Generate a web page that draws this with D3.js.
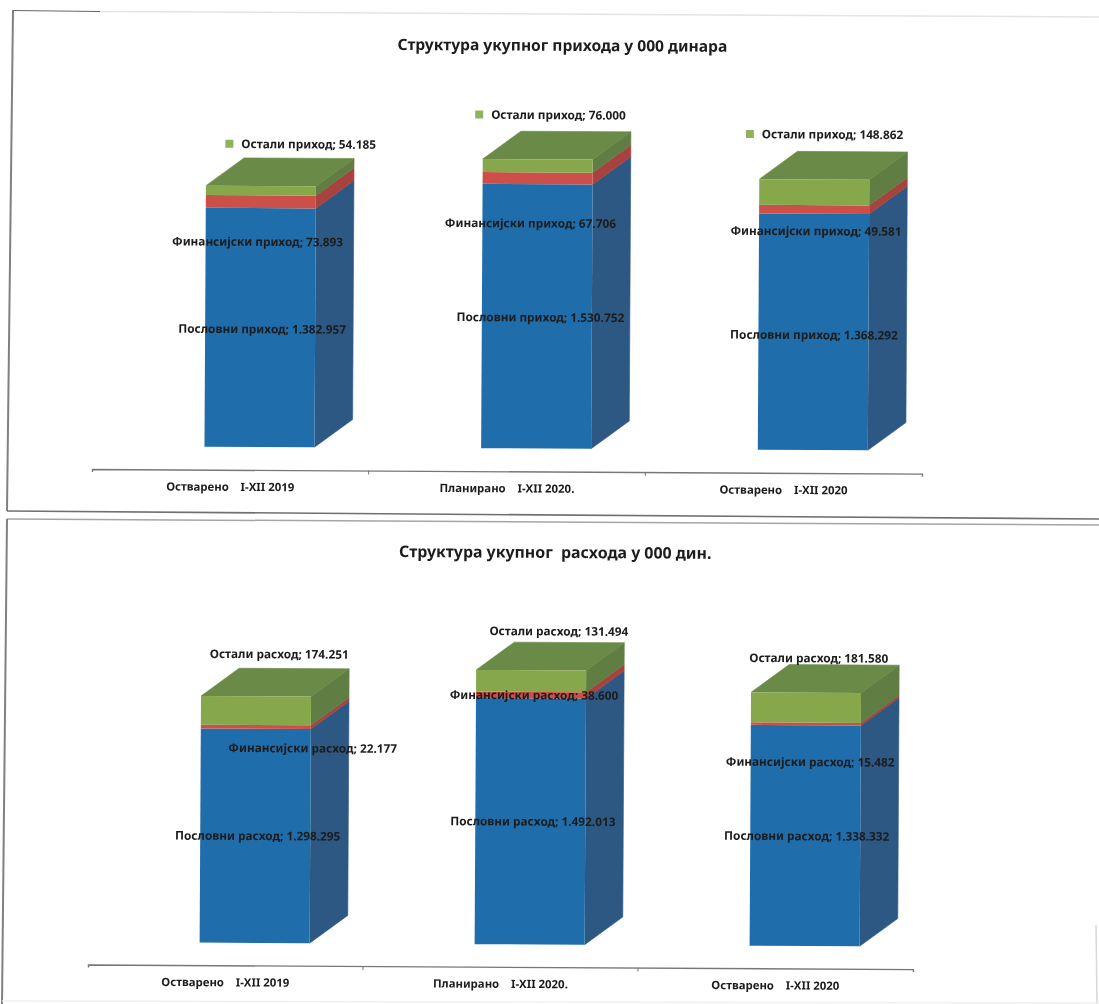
<!DOCTYPE html>
<html>
<head>
<meta charset="utf-8">
<script src="https://cdn.jsdelivr.net/npm/d3@7"></script>
<style>
html, body { margin: 0; padding: 0; background: #fff; }
svg { display: block; filter: blur(0.5px); }
text { font-family: "Noto Sans", sans-serif; font-weight: 700; fill: #1c1c1c; white-space: pre; }
</style>
</head>
<body>
<div id="chart"></div>
<script>
// categories
var incomeCats = ["Остварено    I-XII 2019", "Планирано    I-XII 2020.", "Остварено    I-XII 2020"];
var expenseCats = ["Остварено    I-XII 2019", "Планирано    I-XII 2020.", "Остварено    I-XII 2020"];

// series, 000 din
var incomeNames = ["Пословни приход", "Финансијски приход", "Остали приход"];
var incomeOperating = [1382957, 1530752, 1368292];
var incomeFinancial = [73893, 67706, 49581];
var incomeOther = [54185, 76000, 148862];

var expenseNames = ["Пословни расход", "Финансијски расход", "Остали расход"];
var expenseOperating = [1298295, 1492013, 1338332];
var expenseFinancial = [22177, 38600, 15482];
var expenseOther = [174251, 131494, 181580];

var incomeTitle = "Структура укупног прихода у 000 динара";
var expenseTitle = "Структура укупног  расхода у 000 дин.";

var width = 1099, height = 1004;
var depth = {x: 38, y: -28};
var barW = 110;
var barShift = 29; // 3d floor pushes the bars right of the band centre
var tilt = 0.32;   // the page was scanned slightly crooked

var colors = [
	{front: "#1f6dab", side: "#2d5884", top: "#2d5884"},
	{front: "#cc4f49", side: "#a8423f", top: "#a8423f"},
	{front: "#86a84a", side: "#607e44", top: "#6a8a47"}
];

var fmt = d3.formatLocale({decimal: ",", thousands: ".", grouping: [3], currency: ["", ""]}).format(",d");

var svg = d3.select("#chart").append("svg")
	.attr("width", width)
	.attr("height", height);

// scanned page frames
var frames = [
	{p: [[13, 10], [7, 511]], c: "#808080", w: 2},
	{p: [[13, 10.5], [100, 11.5]], c: "#666", w: 1.2},
	{p: [[100, 11.5], [1099, 17]], c: "#e4e4e4", w: 1.5},
	{p: [[7, 511], [1099, 519]], c: "#707070", w: 1.6},
	{p: [[7, 519], [1099, 525]], c: "#a5a5a5", w: 1.5},
	{p: [[7, 519], [2, 1004]], c: "#808080", w: 2},
	{p: [[1096, 925], [1097, 1004]], c: "#d8d8d8", w: 1.5},
	{p: [[2, 1001], [1099, 1003]], c: "#f0f0f0", w: 1.5}
];
var line = d3.line();
svg.selectAll(".frame").data(frames).enter().append("path")
	.attr("class", "frame")
	.attr("d", function(d){ return line(d.p); })
	.attr("fill", "none")
	.attr("stroke", function(d){ return d.c; })
	.attr("stroke-width", function(d){ return d.w; });

function drawChart(cfg){
	var g = svg.append("g")
		.attr("transform", "rotate(" + tilt + "," + cfg.left + "," + cfg.axisY + ")");

	var x = d3.scaleBand().domain(d3.range(cfg.cats.length)).range([cfg.left, cfg.right]);
	var y = d3.scaleLinear().domain([0, 1000000]).range([cfg.base, cfg.base - cfg.perMillion]);

	var rows = cfg.cats.map(function(c, i){
		return {a: cfg.series[0][i], b: cfg.series[1][i], c: cfg.series[2][i]};
	});
	var stacked = d3.stack().keys(["a", "b", "c"])(rows);

	function barLeft(i){ return x(i) + x.bandwidth() / 2 + barShift - barW / 2; }

	// faces of each segment, same colour stroke closes the seams
	var segs = g.selectAll(".seg").data(stacked).enter().append("g").attr("class", "seg");

	segs.each(function(s, si){
		var sel = d3.select(this);
		s.forEach(function(d, i){
			var x0 = barLeft(i), y0 = y(d[0]), y1 = y(d[1]);
			sel.append("path")
				.attr("d", line([[x0 + barW, y0], [x0 + barW + depth.x, y0 + depth.y], [x0 + barW + depth.x, y1 + depth.y], [x0 + barW, y1]]))
				.attr("fill", colors[si].side)
				.attr("stroke", colors[si].side)
				.attr("stroke-width", 0.6);
			if(si == stacked.length - 1){
				sel.append("path")
					.attr("d", line([[x0, y1], [x0 + depth.x, y1 + depth.y], [x0 + barW + depth.x, y1 + depth.y], [x0 + barW, y1]]))
					.attr("fill", colors[si].top)
					.attr("stroke", colors[si].top)
					.attr("stroke-width", 0.6);
			}
			sel.append("rect")
				.attr("x", x0).attr("y", y1)
				.attr("width", barW).attr("height", y0 - y1)
				.attr("fill", colors[si].front);
		});
	});

	// axis, ticks sit between the bands
	var axis = g.append("g")
		.attr("transform", "translate(0," + cfg.axisY + ")")
		.call(d3.axisBottom(x).tickSize(0).tickSizeOuter(3).tickPadding(13).tickFormat(function(i){ return cfg.cats[i]; }));
	axis.select(".domain").attr("stroke", "#777").attr("stroke-width", 1.4);
	axis.selectAll("text")
		.attr("font-size", cfg.catSize)
		.style("fill", "#1c1c1c");
	axis.selectAll(".between").data(d3.range(1, cfg.cats.length)).enter().append("line")
		.attr("class", "between")
		.attr("x1", function(i){ return x(i); })
		.attr("x2", function(i){ return x(i); })
		.attr("y1", 0).attr("y2", 4)
		.attr("stroke", "#777");

	// data labels, dragged by hand in the original so each has its own offset
	stacked.forEach(function(s, si){
		s.forEach(function(d, i){
			var off = cfg.offsets[si][i];
			var lx = barLeft(i) + barW / 2 + off[0];
			var ly = (y(d[0]) + y(d[1])) / 2 + off[1] + 1;
			var t = g.append("text")
				.attr("x", lx).attr("y", ly)
				.attr("text-anchor", "middle")
				.attr("dominant-baseline", "middle")
				.attr("font-size", cfg.labelSize)
				.text(cfg.names[si] + "; " + fmt(d.data[s.key]));
			if(si == 2 && cfg.legendKey){
				var w = t.node().getComputedTextLength();
				g.append("rect")
					.attr("x", lx - w / 2 - 16).attr("y", ly - 5)
					.attr("width", 8).attr("height", 8)
					.attr("fill", "#8fb35a");
			}
		});
	});

	g.append("text")
		.attr("x", cfg.titleX).attr("y", cfg.titleY)
		.attr("text-anchor", "middle")
		.attr("dominant-baseline", "middle")
		.attr("font-size", cfg.titleSize)
		.text(cfg.title);
}

drawChart({
	cats: incomeCats, names: incomeNames, title: incomeTitle,
	series: [incomeOperating, incomeFinancial, incomeOther],
	left: 92, right: 922, axisY: 469, base: 446, perMillion: 172.7,
	legendKey: true, catSize: 11.4, labelSize: 11.8, titleSize: 15.6,
	titleX: 560, titleY: 44,
	offsets: [
		[[2, 1.5], [3.5, 1], [0.5, 3]],
		[[-3, 40], [-7, 45], [2, 21.6]],
		[[47.5, -46.7], [20.5, -51], [18, -58]]
	]
});

drawChart({
	cats: expenseCats, names: expenseNames, title: expenseTitle,
	series: [expenseOperating, expenseFinancial, expenseOther],
	left: 88, right: 913, axisY: 964.5, base: 942, perMillion: 165,
	legendKey: false, catSize: 11.4, labelSize: 11.8, titleSize: 15.9,
	titleX: 553, titleY: 551,
	offsets: [
		[[2.5, 0], [2.5, 0], [1.5, 0.4]],
		[[57, 21], [3, 0], [4.5, 38]],
		[[23, -56.7], [27.5, -50], [12.5, -49.6]]
	]
});
</script>
</body>
</html>
